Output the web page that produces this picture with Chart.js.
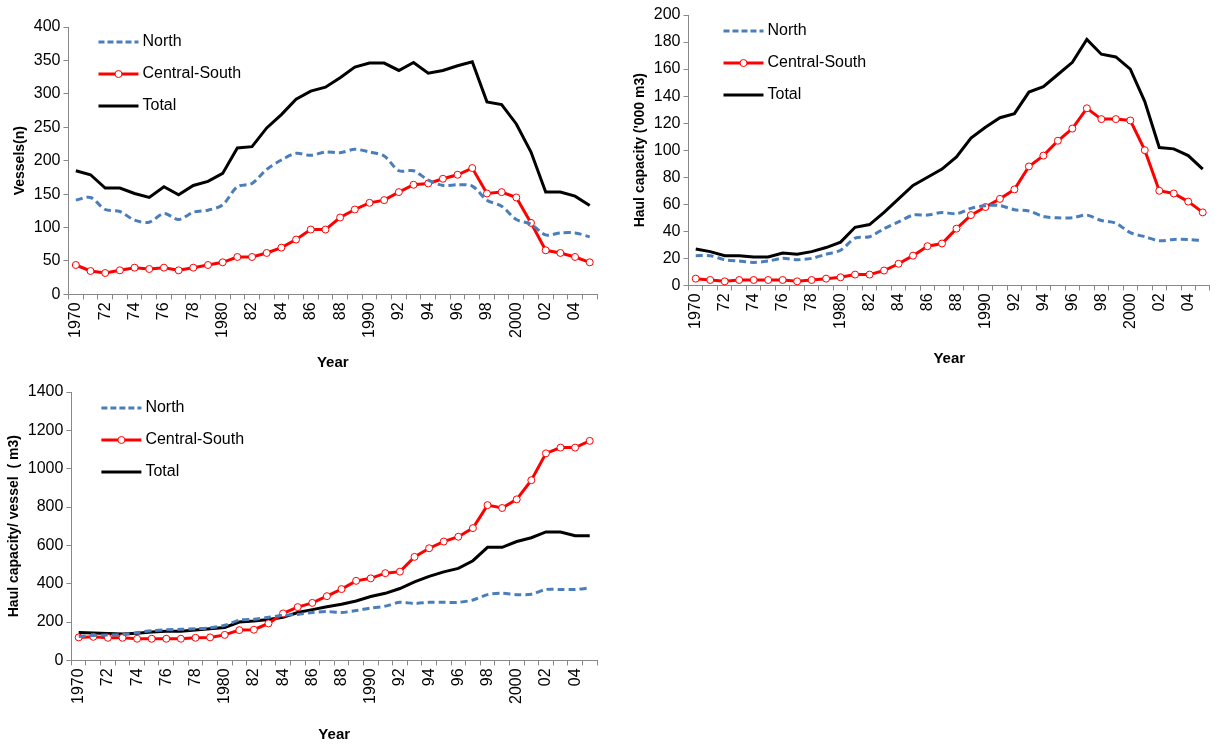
<!DOCTYPE html>
<html><head>
<script src="https://cdn.jsdelivr.net/npm/chart.js@4"></script>
<style>
body{margin:0;background:#fff;width:1225px;height:744px;position:relative;overflow:hidden}
.box{position:absolute}
</style></head><body>
<div class="box" style="left:0;top:0;width:612px;height:372px"><canvas id="c1"></canvas></div>
<div class="box" style="left:612px;top:0;width:613px;height:372px"><canvas id="c2"></canvas></div>
<div class="box" style="left:0;top:372px;width:612px;height:372px"><canvas id="c3"></canvas></div>
<script>
const years = [];
for (let y = 1970; y <= 2005; y++) years.push(y);

const vesselsNorth = [141,145,127,124,111,108,121,112,123,126,134,161,166,187,201,211,208,213,212,217,213,207,185,185,171,163,164,162,141,132,112,105,89,92,92,86];
const vesselsCS = [44,35,32,36,40,38,40,36,40,44,48,56,56,62,70,82,97,97,115,127,137,141,153,164,166,173,179,189,151,153,145,107,66,62,56,48];
const vesselsTotal = [185,179,159,159,151,145,161,149,163,169,181,219,221,249,269,292,304,310,324,340,346,346,335,347,331,335,342,348,288,284,255,213,153,153,147,133];

const capNorth = [22,22,19,18,17,18,20,19,20,23,26,35,36,42,47,52,52,54,53,57,59,59,56,55,51,50,50,52,48,46,39,36,33,34,34,33];
const capCS = [5,4,3,4,4,4,4,3,4,5,6,8,8,11,16,22,29,31,42,52,58,64,71,88,96,107,116,131,123,123,122,100,70,68,62,54];
const capTotal = [27,25,22,22,21,21,24,23,25,28,32,43,45,54,64,74,80,86,95,109,117,124,127,143,147,156,165,182,171,169,160,136,102,101,96,86];

const perNorth = [125,130,132,135,145,155,160,162,165,170,183,210,215,225,235,240,250,255,250,260,273,283,303,297,303,303,303,315,343,350,343,345,370,370,370,378];
const perCS = [120,123,118,118,113,113,113,113,118,120,133,158,160,193,245,278,300,335,372,415,428,455,463,540,585,620,645,690,810,795,840,940,1080,1110,1110,1145];
const perTotal = [145,143,140,138,142,148,152,152,158,165,172,200,205,213,225,250,265,280,293,310,333,350,375,410,438,462,480,520,590,590,620,640,670,670,650,650];

const seriesNames = ["North", "Central-South", "Total"];
const FONT = "'Liberation Sans', Arial, sans-serif";
const BLUE = "#4a7ebb", RED = "#ff0000";

function yearLabel(i) {
  const y = years[i];
  if (i % 2) return "";
  return (y === 1970 || y === 1980 || y === 1990 || y === 2000) ? String(y) : String(y).slice(2);
}

// legend drawn inside the plot, top-left
const legendPlugin = {
  id: "inLegend",
  afterDraw(chart, args, opts) {
    const ctx = chart.ctx, a = chart.chartArea;
    const x0 = a.left + opts.dx, y0 = a.top + opts.dy;
    ctx.save();
    ctx.font = "16px " + FONT;
    ctx.textBaseline = "middle";
    seriesNames.forEach((n, i) => {
      const y = y0 + i * 32;
      ctx.beginPath();
      ctx.lineWidth = 3;
      ctx.setLineDash(i === 0 ? [6, 3] : []);
      ctx.strokeStyle = i === 0 ? BLUE : i === 1 ? RED : "#000";
      ctx.moveTo(x0, y); ctx.lineTo(x0 + 40, y); ctx.stroke();
      ctx.setLineDash([]);
      if (i === 1) {
        ctx.beginPath(); ctx.arc(x0 + 20, y, 3.5, 0, 2 * Math.PI);
        ctx.fillStyle = "#fff"; ctx.fill(); ctx.lineWidth = 1; ctx.stroke();
      }
      ctx.fillStyle = "#000";
      ctx.fillText(n, x0 + 44, y);
    });
    ctx.restore();
  }
};

function makeChart(id, north, cs, total, yMax, yStep, yTitle, pad, leg, titlePad) {
  new Chart(document.getElementById(id), {
    type: "line",
    data: {
      labels: years,
      datasets: [
        { label: "North", data: north, borderColor: BLUE, borderWidth: 3, borderDash: [7, 4], pointRadius: 0, tension: 0.3 },
        { label: "Central-South", data: cs, borderColor: RED, borderWidth: 3, pointRadius: 3.5, pointBackgroundColor: "#fff", pointBorderColor: RED, pointBorderWidth: 1 },
        { label: "Total", data: total, borderColor: "#000", borderWidth: 3, pointRadius: 0 }
      ]
    },
    options: {
      responsive: true, maintainAspectRatio: false, animation: false,
      layout: { padding: pad },
      plugins: { legend: { display: false }, tooltip: { enabled: false }, inLegend: leg },
      scales: {
        x: {
          offset: true,
          grid: { drawOnChartArea: false, offset: true, color: "#888", tickLength: 5 },
          border: { color: "#888" },
          ticks: { autoSkip: false, minRotation: 90, maxRotation: 90, color: "#000", font: { family: FONT, size: 16 }, callback: (v, i) => yearLabel(i) },
          title: { display: true, text: "Year", color: "#000", font: { family: FONT, size: 15, weight: "bold" }, padding: { top: titlePad, bottom: 0 } }
        },
        y: {
          min: 0, max: yMax,
          grid: { drawOnChartArea: false, color: "#888", tickLength: 5 },
          border: { color: "#888" },
          ticks: { stepSize: yStep, color: "#000", font: { family: FONT, size: 16 }, callback: v => String(v) },
          title: { display: true, text: yTitle, color: "#000", font: { family: FONT, size: 14, weight: "bold" }, padding: 2 }
        }
      }
    },
    plugins: [legendPlugin]
  });
}

makeChart("c1", vesselsNorth, vesselsCS, vesselsTotal, 400, 50, "Vessels(n)", { top: 27, right: 3, left: 10, bottom: 0 }, { dx: 30, dy: 15 }, 13);
makeChart("c2", capNorth, capCS, capTotal, 200, 20, "Haul capacity ('000 m3)", { top: 15, right: 4, left: 18, bottom: 4 }, { dx: 35, dy: 16 }, 18);
makeChart("c3", perNorth, perCS, perTotal, 1400, 200, "Haul capacity/ vessel  ( m3)", { top: 20, right: 4, left: 4, bottom: 0 }, { dx: 30, dy: 16 }, 19);
</script>
</body></html>
